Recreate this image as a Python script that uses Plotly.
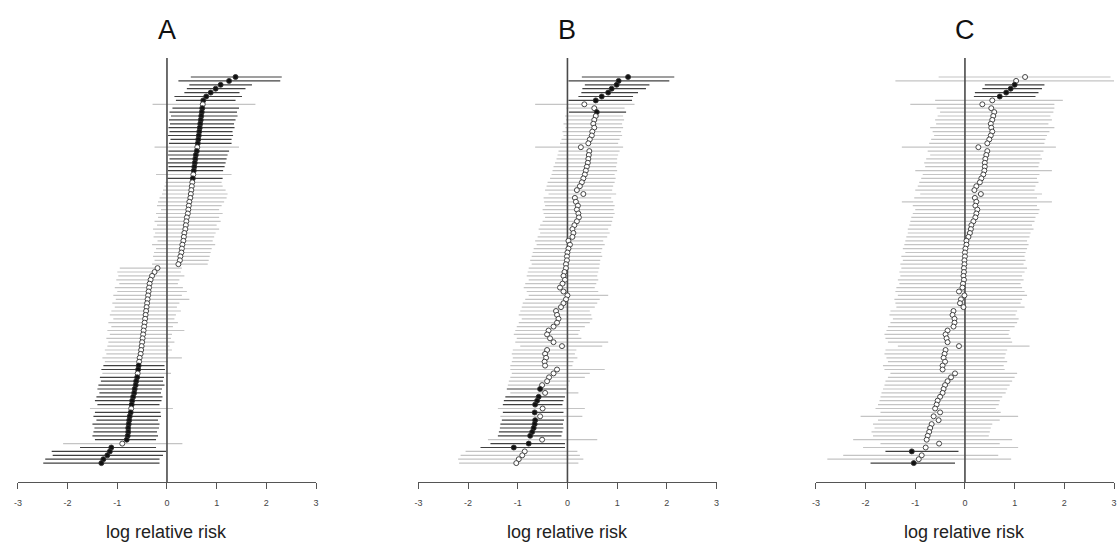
import plotly.graph_objects as go

# ---------------- data ----------------
panels = ["A", "B", "C"]
x_ticks = [-3, -2, -1, 0, 1, 2, 3]
x_tick_labels = ["-3", "-2", "-1", "0", "1", "2", "3"]
axis_title = "log relative risk"

A_est = [1.38, 1.25, 1.08, 0.98, 0.88, 0.79, 0.73, 0.72, 0.71, 0.70,
         0.69, 0.68, 0.67, 0.66, 0.65, 0.64, 0.63, 0.62, 0.61, 0.60,
         0.58, 0.57, 0.56, 0.55, 0.54, 0.53, 0.52, 0.51, 0.50, 0.49,
         0.48, 0.47, 0.45, 0.44, 0.43, 0.42, 0.40, 0.39, 0.38, 0.37,
         0.35, 0.34, 0.33, 0.31, 0.30, 0.29, 0.27, 0.26, 0.23,
         -0.19, -0.25, -0.30, -0.33, -0.35, -0.36, -0.37, -0.38, -0.39, -0.40,
         -0.41, -0.42, -0.43, -0.44, -0.45, -0.46, -0.47, -0.48, -0.49, -0.50,
         -0.51, -0.52, -0.53, -0.55, -0.56, -0.57, -0.58, -0.59, -0.60, -0.62,
         -0.63, -0.65, -0.66, -0.68, -0.70, -0.71, -0.72, -0.73, -0.75, -0.76,
         -0.77, -0.78, -0.78, -0.79, -0.81, -0.90, -1.12, -1.15, -1.20, -1.28,
         -1.32]
A_lo = [0.48, 0.23, 0.45, 0.40, 0.35, 0.15, 0.18, -0.29, 0.11, 0.05,
        0.08, 0.04, 0.06, 0.03, 0.05, 0.02, 0.07, 0.04, -0.25, 0.03,
        0.02, 0.05, 0.01, 0.03, 0.02, -0.22, 0.01, -0.03, -0.05, -0.08,
        -0.10, -0.15, -0.18, -0.20, -0.12, -0.22, -0.18, -0.25, -0.20, -0.28,
        -0.24, -0.27, -0.19, -0.30, -0.22, -0.26, -0.28, -0.25, -0.30,
        -0.95, -1.00, -0.98, -1.02, -0.96, -1.05, -1.00, -1.08, -1.03, -1.10,
        -1.05, -1.12, -1.15, -1.08, -1.18, -1.12, -1.20, -1.15, -1.22, -1.18,
        -1.20, -1.25, -1.22, -1.30, -1.25, -1.28, -1.32, -1.30, -1.35, -1.33,
        -1.38, -1.40, -1.36, -1.42, -1.45, -1.40, -1.55, -1.45, -1.48, -1.42,
        -1.50, -1.46, -1.48, -1.50, -1.45, -2.09, -1.75, -2.32, -2.30, -2.45,
        -2.49]
A_hi = [2.31, 2.28, 1.71, 1.58, 1.46, 1.51, 1.38, 1.78, 1.45, 1.41,
        1.42, 1.38, 1.35, 1.36, 1.32, 1.33, 1.30, 1.30, 1.45, 1.25,
        1.22, 1.20, 1.18, 1.16, 1.13, 1.30, 1.12, 1.10, 1.12, 1.18,
        1.22, 1.20, 1.15, 1.10, 1.05, 1.12, 1.05, 1.08, 1.00, 1.05,
        0.98, 0.95, 0.92, 0.97, 0.90, 0.88, 0.86, 0.84, 0.82,
        0.30, 0.28, 0.35, 0.25, 0.22, 0.32, 0.40, 0.30, 0.45, 0.25,
        0.20, 0.28, 0.18, 0.15, 0.22, 0.12, 0.35, 0.10, 0.08, 0.15,
        0.05, 0.10, 0.03, 0.30, 0.02, -0.05, -0.04, 0.08, -0.06, -0.08,
        -0.05, -0.10, -0.12, -0.09, -0.11, -0.15, 0.12, -0.13, -0.12, -0.18,
        -0.15, -0.16, -0.20, -0.18, -0.22, 0.31, -0.22, -0.02, -0.08, -0.15,
        -0.15]

B_est = [1.22, 1.03, 0.99, 0.89, 0.82, 0.69, 0.57, 0.34, 0.54, 0.59,
         0.57, 0.54, 0.52, 0.54, 0.50, 0.49, 0.45, 0.42, 0.27, 0.44,
         0.43, 0.42, 0.41, 0.39, 0.37, 0.35, 0.32, 0.29, 0.25, 0.19,
         0.32, 0.15, 0.17, 0.21, 0.19, 0.22, 0.23, 0.19, 0.14, 0.10,
         0.12, 0.10, 0.02, 0.05, 0.02, 0.00, -0.01, -0.01, -0.03, -0.03,
         -0.06, -0.08, -0.05, -0.10, -0.15, -0.08, 0.00, -0.03, -0.08, -0.13,
         -0.23, -0.21, -0.18, -0.21, -0.28, -0.38, -0.41, -0.35, -0.28, -0.11,
         -0.41, -0.45, -0.43, -0.46, -0.45, -0.21, -0.28, -0.37, -0.41, -0.51,
         -0.55, -0.45, -0.58, -0.61, -0.65, -0.50, -0.66, -0.55, -0.65, -0.66,
         -0.68, -0.71, -0.75, -0.51, -0.78, -1.08, -0.86, -0.91, -0.98, -1.03]
B_lo = [0.29, 0.02, 0.35, 0.30, 0.28, 0.22, 0.02, -0.65, -0.02, 0.03,
        -0.05, -0.03, -0.08, -0.04, -0.10, -0.08, -0.12, -0.15, -0.65, -0.18,
        -0.20, -0.22, -0.25, -0.28, -0.30, -0.32, -0.35, -0.40, -0.42, -0.45,
        -0.38, -0.48, -0.47, -0.45, -0.50, -0.48, -0.45, -0.50, -0.55, -0.58,
        -0.55, -0.60, -0.65, -0.62, -0.68, -0.70, -0.72, -0.75, -0.72, -0.78,
        -0.80, -0.82, -0.78, -0.85, -0.88, -0.82, -0.78, -0.85, -0.90, -0.92,
        -0.95, -0.98, -0.92, -0.98, -1.02, -1.05, -1.08, -1.02, -1.05, -0.95,
        -1.10, -1.12, -1.10, -1.12, -1.15, -1.15, -1.12, -1.15, -1.18, -1.20,
        -1.22, -1.15, -1.25, -1.28, -1.30, -1.40, -1.30, -1.35, -1.32, -1.35,
        -1.36, -1.38, -1.40, -1.60, -1.55, -1.75, -2.05, -2.15, -2.20, -2.18]
B_hi = [2.15, 2.05, 1.65, 1.58, 1.42, 1.32, 1.30, 1.35, 1.15, 1.18,
        1.12, 1.14, 1.10, 1.12, 1.08, 1.10, 1.05, 1.02, 1.12, 1.05,
        1.02, 1.00, 1.00, 0.98, 1.00, 0.95, 0.97, 0.95, 0.92, 0.90,
        0.98, 0.88, 0.92, 0.95, 0.93, 0.95, 0.92, 0.90, 0.88, 0.82,
        0.85, 0.80, 0.72, 0.75, 0.70, 0.68, 0.70, 0.66, 0.65, 0.64,
        0.62, 0.60, 0.62, 0.58, 0.55, 0.62, 0.82, 0.65, 0.60, 0.55,
        0.45, 0.48, 0.50, 0.45, 0.35, 0.25, 0.22, 0.28, 0.82, 0.70,
        0.18, 0.15, 0.20, 0.12, 0.10, 0.75, 0.45, 0.35, 0.05, 0.02,
        -0.02, 0.22, -0.05, -0.08, -0.10, 0.35, -0.08, 0.30, -0.07, -0.09,
        -0.08, -0.10, -0.12, 0.60, -0.05, -0.05, 0.20, 0.25, 0.32, 0.22]

C_est = [1.21, 1.03, 1.00, 0.92, 0.83, 0.70, 0.55, 0.35, 0.53, 0.59,
         0.57, 0.55, 0.52, 0.53, 0.55, 0.52, 0.49, 0.45, 0.27, 0.45,
         0.43, 0.41, 0.40, 0.40, 0.39, 0.37, 0.33, 0.30, 0.23, 0.19,
         0.32, 0.20, 0.23, 0.21, 0.25, 0.23, 0.21, 0.17, 0.13, 0.12,
         0.10, 0.07, 0.03, 0.03, 0.01, 0.00, 0.00, -0.01, -0.01, -0.02,
         -0.02, -0.03, -0.02, -0.04, -0.05, -0.12, -0.01, -0.08, -0.10, -0.03,
         -0.23, -0.25, -0.21, -0.21, -0.23, -0.35, -0.39, -0.37, -0.35, -0.12,
         -0.39, -0.41, -0.43, -0.40, -0.45, -0.45, -0.20, -0.28, -0.35, -0.40,
         -0.43, -0.45, -0.50, -0.55, -0.57, -0.60, -0.50, -0.63, -0.53, -0.67,
         -0.70, -0.72, -0.75, -0.77, -0.52, -0.79, -1.07, -0.87, -0.93, -1.03]
C_lo = [-0.53, -1.40, 0.40, 0.35, 0.20, 0.18, -0.60, -1.10, -0.57, -0.50,
        -0.55, -0.60, -0.58, -0.70, -0.65, -0.62, -0.68, -0.72, -1.27, -0.75,
        -0.70, -0.78, -0.82, -0.80, -1.00, -0.85, -0.88, -0.92, -0.95, -1.00,
        -0.90, -1.02, -1.27, -1.05, -1.00, -1.05, -1.08, -1.10, -1.12, -1.15,
        -1.15, -1.18, -1.20, -1.22, -1.25, -1.20, -1.28, -1.25, -1.30, -1.28,
        -1.32, -1.30, -1.35, -1.32, -1.38, -1.40, -1.35, -1.42, -1.40, -1.38,
        -1.50, -1.52, -1.45, -1.50, -1.55, -1.58, -1.62, -1.60, -1.55, -1.35,
        -1.60, -1.62, -1.58, -1.55, -1.65, -1.62, -1.50, -1.55, -1.60, -1.62,
        -1.65, -1.68, -1.70, -1.72, -1.75, -1.80, -1.70, -2.10, -1.75, -1.85,
        -1.82, -1.88, -1.85, -2.25, -1.70, -2.05, -1.60, -2.45, -2.77, -1.90]
C_hi = [2.93, 3.20, 1.60, 1.55, 1.48, 1.42, 1.97, 1.80, 1.80, 1.78,
        1.72, 1.75, 1.68, 1.80, 1.70, 1.65, 1.62, 1.60, 1.83, 1.58,
        1.52, 1.55, 1.50, 1.48, 1.75, 1.50, 1.45, 1.48, 1.42, 1.40,
        1.55, 1.45, 1.75, 1.45, 1.50, 1.48, 1.42, 1.40, 1.35, 1.38,
        1.32, 1.30, 1.25, 1.28, 1.25, 1.22, 1.20, 1.22, 1.18, 1.25,
        1.20, 1.15, 1.18, 1.12, 1.15, 1.20, 1.25, 1.15, 1.12, 1.20,
        1.05, 1.02, 1.08, 1.05, 1.00, 0.90, 0.88, 0.92, 0.95, 1.30,
        0.85, 0.82, 0.80, 0.85, 0.78, 0.80, 1.05, 1.00, 0.95, 0.90,
        0.85, 0.82, 0.75, 0.70, 0.68, 0.62, 0.72, 1.07, 0.70, 0.55,
        0.52, 0.50, 0.48, 0.95, 0.70, 1.07, -0.13, 0.67, 0.93, -0.20]

# ---------------- figure ----------------
W, H = 1118, 545
x0_px = [14, 417, 817]          # pixel of x=-3 for each panel
x_span_px = 300                 # pixels for 6 log units
row_top_px, row_step_px = 77, 3.9
axis_px, top_px = 482, 58
n = len(A_est)
y_top = (top_px - row_top_px) / row_step_px
y_bot = (axis_px - row_top_px) / row_step_px

DARK = "#404040"
GREY = "#c4c4c4"

fig = go.Figure()
data = [(A_est, A_lo, A_hi), (B_est, B_lo, B_hi), (C_est, C_lo, C_hi)]
rows = list(range(n))

for k, (est, lo, hi) in enumerate(data):
    xa = "x" if k == 0 else f"x{k+1}"
    ya = "y" if k == 0 else f"y{k+1}"
    sig = [(l > 0) or (h < 0) for l, h in zip(lo, hi)]
    for flag, col in [(False, GREY), (True, DARK)]:
        xs, ys = [], []
        for i in rows:
            if sig[i] == flag:
                xs += [lo[i], hi[i], None]
                ys += [i, i, None]
        fig.add_trace(go.Scatter(x=xs, y=ys, mode="lines", xaxis=xa, yaxis=ya,
                                 line=dict(color=col, width=1.2),
                                 hoverinfo="skip", showlegend=False))
    # zero reference line
    fig.add_trace(go.Scatter(x=[0, 0], y=[y_top, y_bot], mode="lines",
                             xaxis=xa, yaxis=ya,
                             line=dict(color="#4a4a4a", width=1.6),
                             hoverinfo="skip", showlegend=False))
    fig.add_trace(go.Scatter(
        x=est, y=rows, mode="markers", xaxis=xa, yaxis=ya,
        marker=dict(symbol="circle", size=5,
                    color=["#111111" if s else "white" for s in sig],
                    line=dict(color="#333333", width=0.9)),
        showlegend=False))

layout = dict(width=W, height=H, margin=dict(l=0, r=0, t=0, b=0),
              plot_bgcolor="white", paper_bgcolor="white",
              font=dict(family="Liberation Sans, Arial, sans-serif", color="#222"))
ydom = [(H - axis_px) / H, (H - top_px) / H]
annotations = []
for k in range(3):
    sx = "" if k == 0 else str(k + 1)
    dom = [x0_px[k] / W, (x0_px[k] + x_span_px) / W]
    layout["xaxis" + sx] = dict(
        domain=dom, range=[-3, 3], anchor="y" + sx,
        showline=True, linecolor="#555", linewidth=1.2,
        ticks="outside", ticklen=6, tickcolor="#555", tickwidth=1.2,
        tickvals=x_ticks, ticktext=x_tick_labels, ticklabelstandoff=6,
        tickfont=dict(size=9, color="#444"),
        showgrid=False, zeroline=False, fixedrange=True)
    layout["yaxis" + sx] = dict(
        domain=ydom, range=[y_bot, y_top], anchor="x" + sx,
        visible=False, showgrid=False, zeroline=False, fixedrange=True)
    cx = (dom[0] + dom[1]) / 2
    annotations.append(dict(text=panels[k], x=cx, y=1 - 30 / H, xref="paper", yref="paper",
                            xanchor="center", yanchor="middle", showarrow=False,
                            font=dict(size=27, color="#111")))
    annotations.append(dict(text=axis_title, x=cx, y=1 - 532 / H, xref="paper", yref="paper",
                            xanchor="center", yanchor="middle", showarrow=False,
                            font=dict(size=18, color="#222")))
layout["annotations"] = annotations
fig.update_layout(**layout)
fig.write_html("out.html", config={"displayModeBar": False},
               post_script="document.body.style.margin='0';document.body.style.overflow='hidden';")
